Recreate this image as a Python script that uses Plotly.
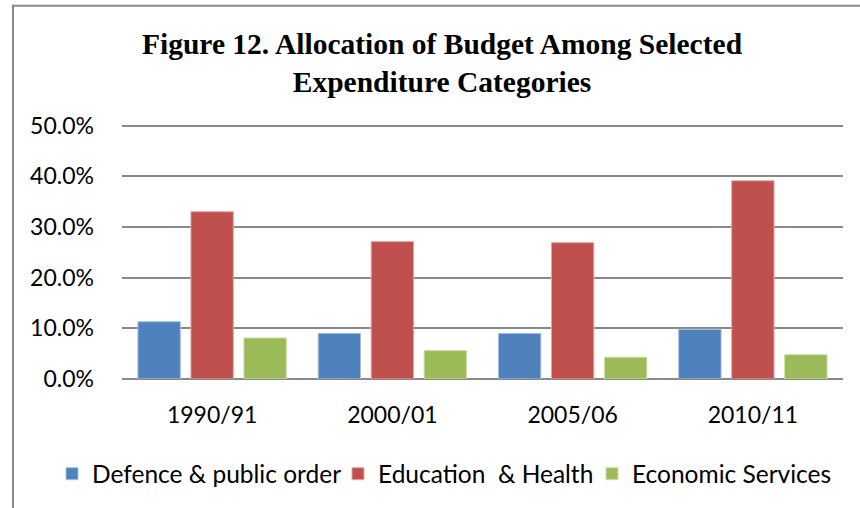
import plotly.graph_objects as go

categories = ["1990/91", "2000/01", "2005/06", "2010/11"]
defence = [11.3, 9.0, 9.0, 9.8]
education = [33.0, 27.1, 26.9, 39.1]
economic = [8.1, 5.6, 4.3, 4.8]
series_names = ["Defence & public order", "Education  & Health", "Economic Services"]
colors = ["#4F81BD", "#C0504D", "#9BBB59"]
edge = ["#A9C0DE", "#DFA8A6", "#CDDDAC"]
ytick_vals = [0, 10, 20, 30, 40, 50]
ytick_text = ["0.0%", "10.0%", "20.0%", "30.0%", "40.0%", "50.0%"]

W, H = 860, 508
L, R = 122, 843
B = 382
Y50 = 126
RMAX = 50.3
T = B - RMAX * (B - Y50) / 50.0

legend_ids = ["legend", "legend2", "legend3"]
legend_left_px = [52, 338, 592]

fig = go.Figure()
for name, vals, c, e, lg in zip(series_names, [defence, education, economic], colors, edge, legend_ids):
    fig.add_trace(go.Bar(x=categories, y=vals, name=name, legend=lg,
                         marker=dict(color=c, line=dict(color=e, width=1))))

def px_x(p):
    return (p - L) / (R - L)

def px_y(p):
    return (B - p) / (B - T)

legend_common = dict(orientation="h", xanchor="left", y=px_y(455), yanchor="top",
                     font=dict(size=24.5), itemwidth=30, bgcolor="rgba(0,0,0,0)")

fig.update_layout(
    width=W, height=H,
    margin=dict(l=L, r=W - R, t=T, b=H - B, pad=0),
    paper_bgcolor="white", plot_bgcolor="white",
    barmode="group", bargap=0.118, bargroupgap=0.2,
    font=dict(family="Lato, Carlito, sans-serif", size=23, color="black"),
    title=dict(
        text="Figure 12. Allocation of Budget Among Selected<br>Expenditure Categories",
        font=dict(family="Liberation Serif, Times New Roman, serif", size=29.5, color="black", weight="bold"),
        x=442 / W, xanchor="center", yref="container", y=1 - 54 / H, yanchor="top",
    ),
    showlegend=True,
    legend=dict(x=px_x(legend_left_px[0]), **legend_common),
    legend2=dict(x=px_x(legend_left_px[1]), **legend_common),
    legend3=dict(x=px_x(legend_left_px[2]), **legend_common),
    shapes=[
        dict(type="line", xref="paper", yref="paper", x0=px_x(13), x1=px_x(13), y0=px_y(4), y1=px_y(520),
             line=dict(color="#898989", width=2)),
        dict(type="line", xref="paper", yref="paper", x0=px_x(12), x1=px_x(870), y0=px_y(5), y1=px_y(5),
             line=dict(color="#898989", width=2)),
    ],
)
fig.update_xaxes(showgrid=False, showline=False, zeroline=False, ticks="",
                 ticklabelstandoff=20, tickfont=dict(size=23))
fig.update_yaxes(range=[0, RMAX], tickvals=ytick_vals, ticktext=ytick_text,
                 showgrid=True, gridcolor="#898989", gridwidth=2,
                 zeroline=True, zerolinecolor="#898989", zerolinewidth=2,
                 showline=False, ticks="", ticklabelstandoff=27, tickfont=dict(size=23))

fig.write_html("out.html", config={"displayModeBar": False},
               post_script="document.body.style.margin='0';")
